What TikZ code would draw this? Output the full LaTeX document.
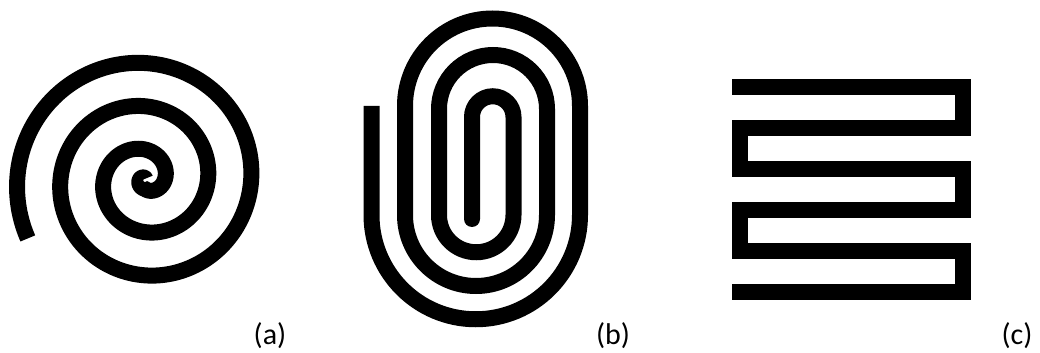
\documentclass[tikz,border=0pt]{standalone}
\usepackage{fontspec}
\setmainfont{Carlito}
\usepackage{tikz}
\tikzset{
    coil/.style = {line width=8pt, line cap=butt, line join=miter},
    tag/.style = {font=\fontsize{15}{17}\selectfont, inner sep=0pt}
}

\begin{document}
\begin{tikzpicture}[x=0.5pt, y=0.5pt]
                    \useasboundingbox (0,0) rectangle (1040,-353);
                    % Espiral
                    \draw [coil, smooth] plot [domain=-280:926.5, samples=450, variable=\t]
                        ({145 + max(19.7 + 0.12008*\t, 8.9 + 0.04*(\t+90))*cos(\t)},
                         {-180 + max(19.7 + 0.12008*\t, 8.9 + 0.04*(\t+90))*sin(\t)});
    
                    % Clip
                    \fill (472,-219) circle (8);
                    \draw [coil] (472,-219) -- (472,-117) arc [start angle=180, end angle=0, radius=20.75]
                        -- (513.5,-215) arc [start angle=0, end angle=-180, radius=37.25]
                        -- (439,-109) arc [start angle=180, end angle=0, radius=54]
                        -- (547,-215) arc [start angle=0, end angle=-180, radius=71]
                        -- (405,-106) arc [start angle=180, end angle=0, radius=87.5]
                        -- (580,-215) arc [start angle=0, end angle=-180, radius=104.25]
                        -- (371.5,-106);
    
                    % Meandro
                    \draw [coil] (732,-87) -- (963,-87) -- (963,-128) -- (740,-128)
                        -- (740,-169.5) -- (963,-169.5) -- (963,-210) -- (740,-210)
                        -- (740,-251) -- (963,-251) -- (963,-292) -- (732,-292);
    
                    % Etiquetas
                    \node (la) [tag] at (270,-336) {(a)};
                    \node (lb) [tag] at (613,-336) {(b)};
                    \node (lc) [tag] at (1017,-336) {(c)};
                \end{tikzpicture}
\end{document}
